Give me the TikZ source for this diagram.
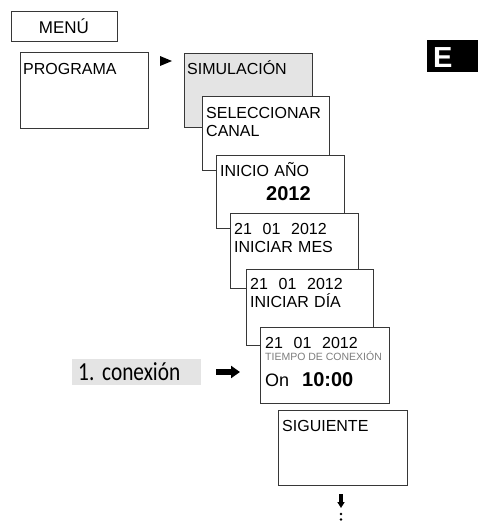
\documentclass[tikz,border=0pt]{standalone}
\usepackage{fontspec}
\setmainfont{Liberation Sans}
\newfontfamily\condfont[FakeStretch=0.82]{Carlito}
\usetikzlibrary{arrows.meta,positioning,calc}
\definecolor{menuGray}{RGB}{228, 228, 228}
\definecolor{frameGray}{RGB}{55, 55, 55}
\definecolor{hintGray}{RGB}{125, 125, 125}

\begin{document}
\begin{tikzpicture}[
  x=1pt, y=-1pt,
  screen/.style={draw=frameGray, line width=1pt, fill=white, minimum width=128pt, minimum height=75pt, anchor=north west, inner sep=0pt},
  lcd/.style={anchor=base west, inner sep=0pt, align=left, text width=122pt, font=\fontsize{16}{18}\selectfont},
  big/.style={anchor=base west, inner sep=0pt, font=\fontsize{20}{24}\selectfont\bfseries},
  arrow/.style={-{Triangle[length=9pt, width=12pt]}, line width=5.5pt},
  downarrow/.style={-{Triangle[length=6pt, width=7pt]}, line width=3.5pt}
]
\useasboundingbox (0,0) rectangle (478,523);

% menu header and language tab
\node[draw=frameGray, line width=1pt, minimum width=106pt, minimum height=30pt, inner sep=0pt, font=\fontsize{17}{20}\selectfont] (menu) at (64,26) {MENÚ};
\node[fill=black, minimum width=51pt, minimum height=32pt, anchor=north west, inner sep=0pt] (lang) at (427,40) {};
\node[anchor=base west, inner sep=0pt, text=white, font=\fontsize{29}{30}\selectfont\bfseries] (langtext) at ($(lang.north west)+(6,27)$) {E};

% screens, each one drawn over the previous one
\node[screen, minimum height=76pt] (prog) at (20,52) {};
\node[screen, fill=menuGray, minimum height=74pt] (sim) at (184,53) {};
\node[screen, minimum width=127pt, minimum height=74pt] (sel) at (202,96) {};
\node[screen, minimum height=73pt] (anio) at (216,155) {};
\node[screen] (mes) at (230,213) {};
\node[screen, minimum width=127pt, minimum height=76pt] (dia) at (246,269) {};
\node[screen, minimum width=129pt, minimum height=76pt] (con) at (260,327) {};
\node[screen, minimum width=129pt] (sig) at (278,410) {};

\node[lcd] (progtext) at ($(prog.north west)+(3,22)$) {PROGRAMA};
\node[lcd] (simtext) at ($(sim.north west)+(3,21.5)$) {SIMULACIÓN};
\node[lcd] (seltext) at ($(sel.north west)+(4,22.5)$) {SELECCIONAR\\CANAL};
\node[lcd] (aniotext) at ($(anio.north west)+(4,21)$) {INICIO AÑO};
\node[big] (anioyear) at (266,200) {2012};
\node[lcd] (mestext) at ($(mes.north west)+(4,21)$) {21\ \ 01\ \ 2012\\INICIAR MES};
\node[lcd] (diatext) at ($(dia.north west)+(4,20)$) {21\ \ 01\ \ 2012\\INICIAR DÍA};
\node[lcd] (context) at ($(con.north west)+(5,21)$) {21\ \ 01\ \ 2012};
\node[anchor=base west, inner sep=0pt, text=hintGray, font=\fontsize{10.5}{12}\selectfont] (conhint) at (265,360) {TIEMPO DE CONEXIÓN};
\node[anchor=base west, inner sep=0pt, font=\fontsize{18}{20}\selectfont] (conon) at (265,386) {On};
\node[big] (contime) at (302,386) {10:00};
\node[lcd] (sigtext) at ($(sig.north west)+(4,21)$) {SIGUIENTE};

\fill[black] (160,56) -- (172,61) -- (160,66) -- cycle;

% step label
\node[fill=menuGray, anchor=west, minimum height=26pt, inner ysep=0pt, inner xsep=6pt, text width=117pt, align=left, font=\condfont\fontsize{26}{30}\selectfont] (conn) at (72,372) {1.\hspace{0.3em}conexión};
\draw[arrow, shorten <=15pt, shorten >=20pt] (conn.east) -- (conn.east -| con.west);

% more steps follow
\coordinate (next) at (341,508);
\draw[downarrow] (next |- sig.south) ++(0,8) -- (next);
\fill (341,514) circle (1.4);
\fill (341,519.5) circle (1.4);
\end{tikzpicture}
\end{document}
